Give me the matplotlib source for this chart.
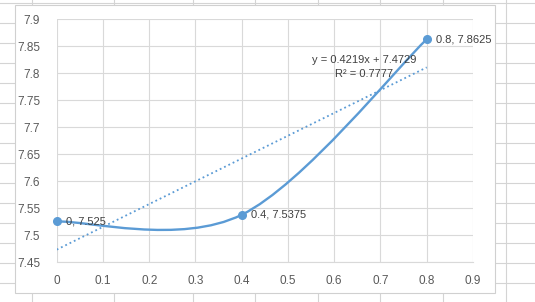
import numpy as np
import matplotlib.pyplot as plt
from matplotlib.path import Path
from matplotlib.patches import PathPatch, Rectangle
from matplotlib.lines import Line2D

# data points
x_vals = [0.0, 0.4, 0.8]
y_vals = [7.525, 7.5375, 7.8625]
labels = ["0, 7.525", "0.4, 7.5375", "0.8, 7.8625"]

# trendline as shown by excel
slope = 0.4219
intercept = 7.4729
r2 = 0.7777

xticks = [0, 0.1, 0.2, 0.3, 0.4, 0.5, 0.6, 0.7, 0.8, 0.9]
yticks = [7.45, 7.5, 7.55, 7.6, 7.65, 7.7, 7.75, 7.8, 7.85, 7.9]

W, H = 535, 302
blue = "#5B9BD5"
txt = "#404040"
plt.rcParams['font.family'] = ['Liberation Sans', 'DejaVu Sans']

fig = plt.figure(figsize=(W/100, H/100), dpi=100)
fig.patch.set_facecolor("white")

def fx(px):
    return px / W

def fy(py):
    return 1 - py / H

# spreadsheet cells behind the chart
for cx in [32, 114, 193, 255, 318, 380, 443, 506]:
    fig.add_artist(Line2D([fx(cx), fx(cx)], [0, 1], color="#D4D4D4", lw=0.8, zorder=0.1))
for ry in range(3, 302, 20):
    fig.add_artist(Line2D([0, 1], [fy(ry), fy(ry)], color="#D4D4D4", lw=0.8, zorder=0.1))

# chart area
fig.add_artist(Rectangle((fx(15), fy(293)), fx(495-15), (293-5)/H,
                         facecolor="white", edgecolor="#D0D0D0", lw=0.8, zorder=0.2))

ax = fig.add_axes([fx(56.7), fy(262), fx(473-56.7), (262-19)/H])
ax.set_zorder(1)
ax.set_xlim(0, 0.9)
ax.set_ylim(7.45, 7.9)
ax.set_xticks(xticks)
ax.set_yticks(yticks)
ax.set_xticklabels([("%g" % v) for v in xticks])
ax.set_yticklabels([("%g" % v) for v in yticks])
ax.grid(True, color="#D9D9D9", lw=0.8)
ax.set_axisbelow(True)
for s in ax.spines.values():
    s.set_visible(False)
ax.spines['bottom'].set_visible(True)
ax.spines['bottom'].set_color("#D9D9D9")
ax.tick_params(length=0, labelsize=8.5, labelcolor="#595959")
ax.tick_params(axis='y', pad=12)
ax.tick_params(axis='x', pad=9)
ax.patch.set_alpha(0)

# excel style smoothed line (bezier through the points)
pts = np.column_stack([x_vals, y_vals])
n = len(pts)
verts = [pts[0]]
codes = [Path.MOVETO]
for i in range(n - 1):
    p_prev = pts[max(i - 1, 0)]
    p_next2 = pts[min(i + 2, n - 1)]
    c1 = pts[i] + (pts[i + 1] - p_prev) / 6
    c2 = pts[i + 1] - (p_next2 - pts[i]) / 6
    verts += [c1, c2, pts[i + 1]]
    codes += [Path.CURVE4] * 3
ax.add_patch(PathPatch(Path(verts, codes), facecolor="none", edgecolor=blue, lw=1.7, zorder=3))
ax.plot(x_vals, y_vals, 'o', color=blue, ms=5.5, zorder=4, clip_on=False)

# trend line
tx = np.array([0, 0.8])
ax.plot(tx, slope * tx + intercept, ':', color=blue, lw=1.3, zorder=2)

for xv, yv, lab in zip(x_vals, y_vals, labels):
    ax.annotate(lab, (xv, yv), xytext=(7, 0), textcoords='offset points',
                va='center', ha='left', fontsize=8, color=txt)

fig.text(fx(364), fy(60), "y = %.4fx + %.4f" % (slope, intercept),
         ha='center', va='center', fontsize=8, color=txt, zorder=5)
fig.text(fx(364), fy(74), "R² = %.4f" % r2,
         ha='center', va='center', fontsize=8, color=txt, zorder=5)

fig.savefig("out.png", dpi=100)
